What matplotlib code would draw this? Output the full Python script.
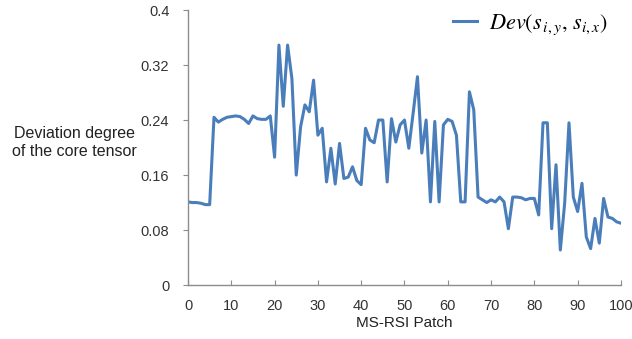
import matplotlib
matplotlib.use('Agg')
import matplotlib.pyplot as plt
import numpy as np

plt.rcParams['font.family'] = ['Liberation Sans', 'DejaVu Sans']
plt.rcParams['mathtext.fontset'] = 'stix'

# datos
patch = list(range(0, 101))
desviacion = [
    0.121, 0.120, 0.120, 0.119, 0.117, 0.117, 0.244, 0.237, 0.241, 0.244,
    0.245, 0.246, 0.245, 0.241, 0.235, 0.246, 0.242, 0.241, 0.241, 0.246,
    0.186, 0.349, 0.260, 0.349, 0.300, 0.160, 0.230, 0.262, 0.252, 0.298,
    0.218, 0.228, 0.150, 0.199, 0.147, 0.206, 0.155, 0.157, 0.172, 0.152,
    0.146, 0.228, 0.211, 0.207, 0.240, 0.240, 0.150, 0.242, 0.208, 0.233,
    0.240, 0.199, 0.250, 0.303, 0.192, 0.240, 0.121, 0.238, 0.121, 0.233,
    0.241, 0.238, 0.218, 0.121, 0.121, 0.281, 0.255, 0.128, 0.124, 0.120,
    0.124, 0.121, 0.128, 0.121, 0.082, 0.128, 0.128, 0.127, 0.124, 0.126,
    0.126, 0.102, 0.236, 0.236, 0.082, 0.175, 0.051, 0.119, 0.236, 0.128,
    0.107, 0.148, 0.070, 0.053, 0.097, 0.061, 0.126, 0.099, 0.097, 0.092,
    0.090,
]
yticks = [0, 0.08, 0.16, 0.24, 0.32, 0.4]
ytick_labels = ['0', '0.08', '0.16', '0.24', '0.32', '0.4']
xticks = list(range(0, 101, 10))

fig = plt.figure(figsize=(6.32, 3.39), dpi=100)
ax = fig.add_axes([0.2975, 0.159, 0.685, 0.8115])

ax.plot(patch, desviacion, color='#4a7ebb', linewidth=2.2,
        label=r'$\mathit{Dev}\left(s_{\,i,y},\, s_{i,x}\right)$')

ax.set_xlim(0, 100)
ax.set_ylim(0, 0.4)
ax.set_xticks(xticks)
ax.set_yticks(yticks)
ax.set_yticklabels(ytick_labels)

for s in ['top', 'right']:
    ax.spines[s].set_visible(False)
for s in ['left', 'bottom']:
    ax.spines[s].set_color('#8c8c8c')
    ax.spines[s].set_linewidth(1.0)

ax.tick_params(axis='x', direction='in', length=3.5, color='#8c8c8c',
               labelsize=10.5, labelcolor='#333333', pad=10)
ax.tick_params(axis='y', direction='out', length=3.5, color='#8c8c8c',
               labelsize=10.5, labelcolor='#333333', pad=10)

ax.set_xlabel('MS-RSI Patch', fontsize=11, color='#222222', labelpad=2)
fig.text(0.118, 0.58, 'Deviation degree\nof the core tensor', ha='center',
         va='center', fontsize=11.5, color='#222222', linespacing=1.3)

ax.legend(loc='upper right', frameon=False, fontsize=16, handlelength=1.1,
          handletextpad=0.5, borderaxespad=0.2, bbox_to_anchor=(1.0, 1.04))

fig.savefig('out.png', dpi=100)
